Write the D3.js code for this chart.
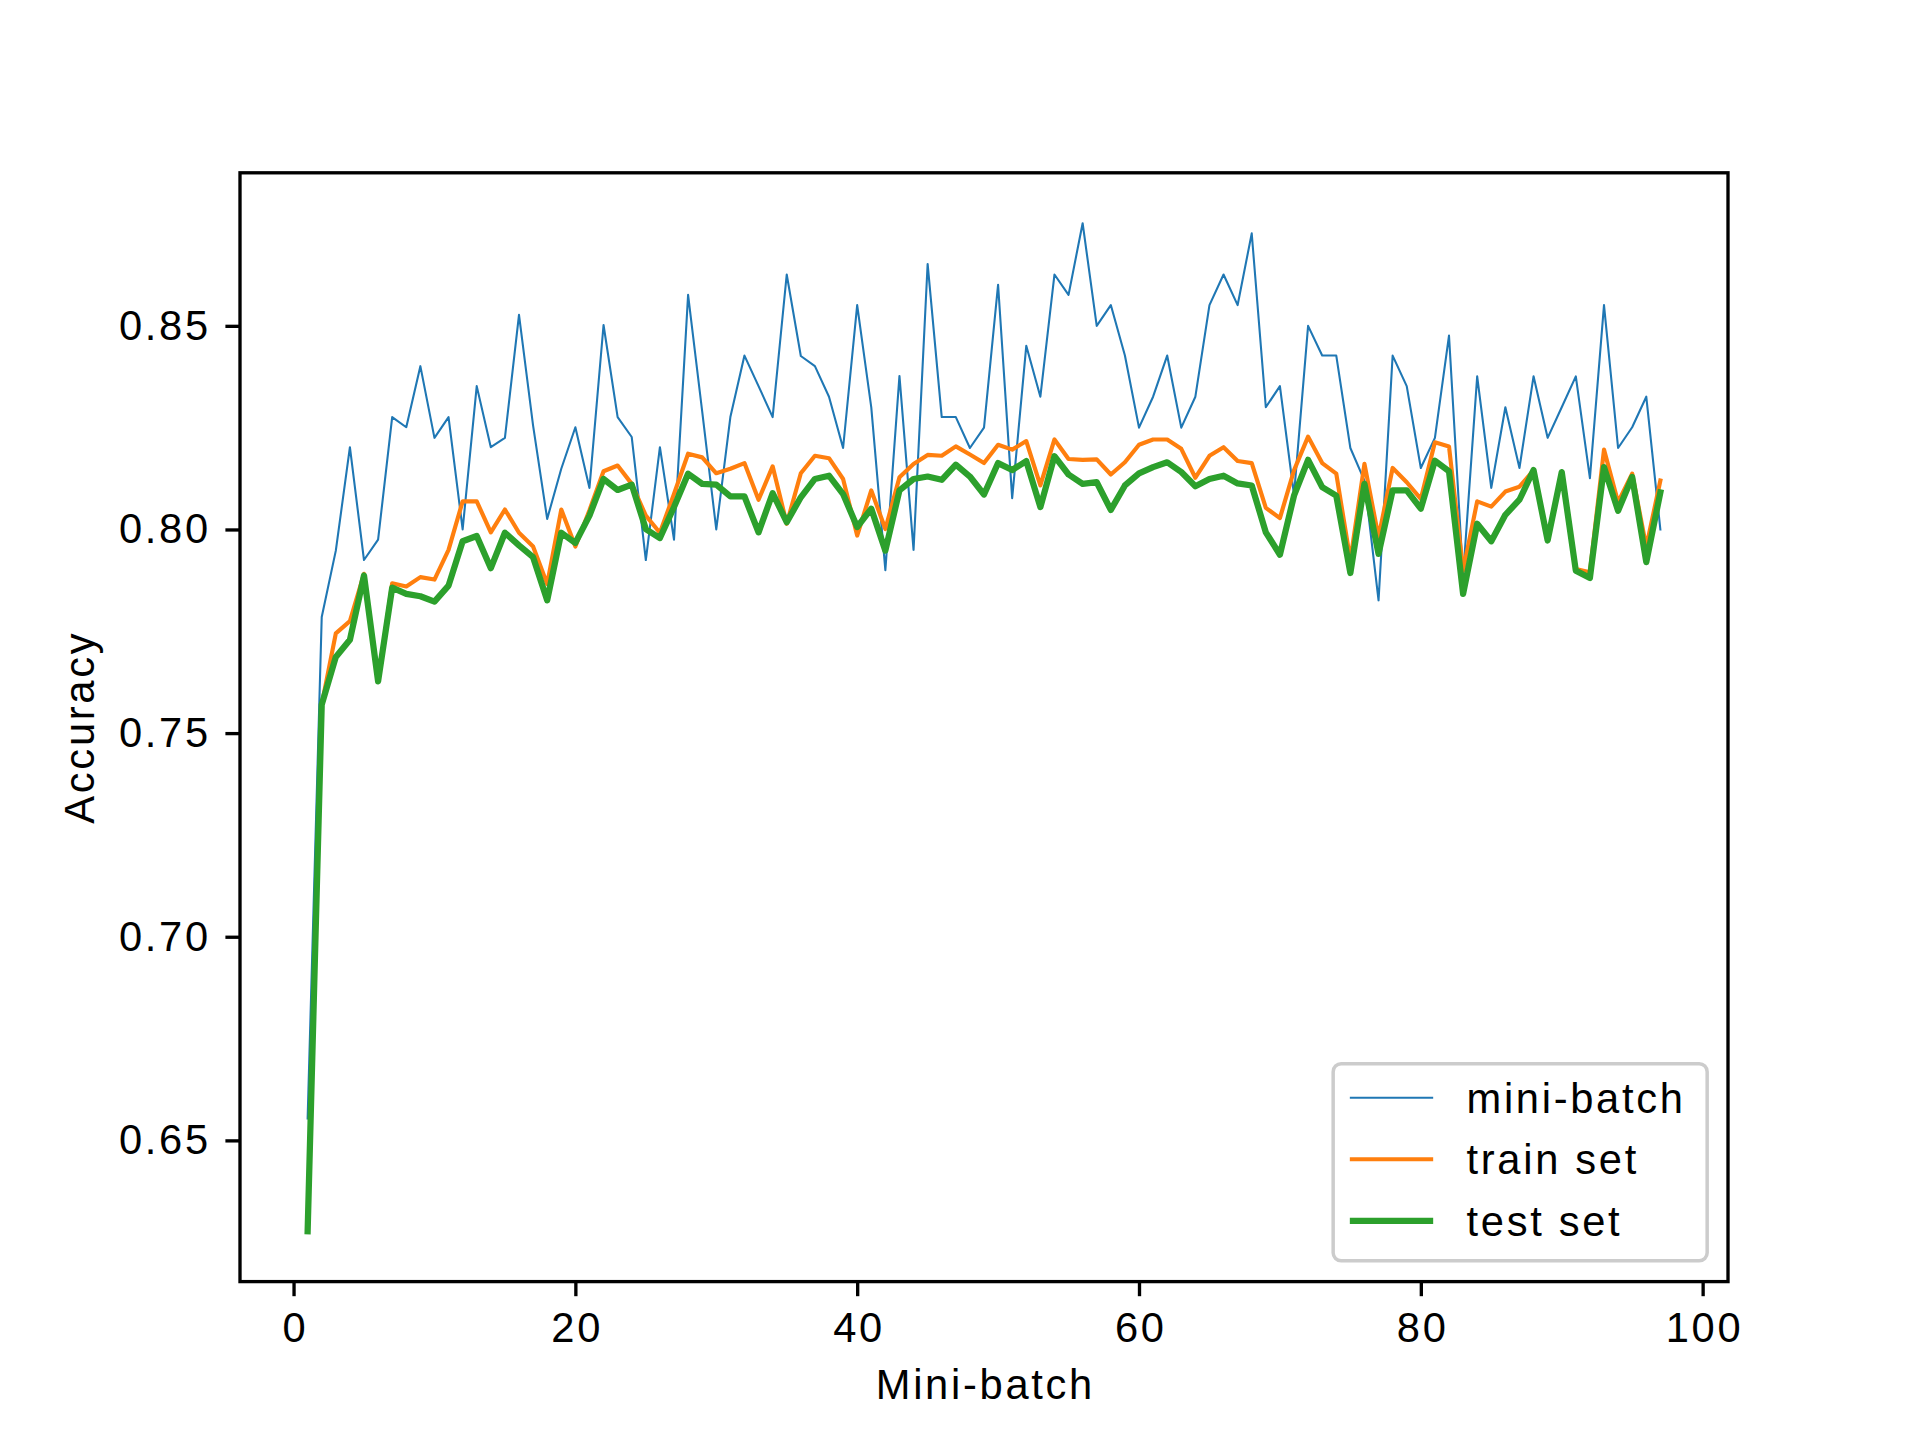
<!DOCTYPE html>
<html>
<head>
<meta charset="utf-8">
<script src="https://cdn.jsdelivr.net/npm/d3@7/dist/d3.min.js"></script>
<style>
  body { margin: 0; background: #fff; }
  svg { display: block; font-family: "Liberation Sans", Arial, sans-serif; }
  svg text { letter-spacing: 2.7px; }
</style>
</head>
<body>
<svg id="chart" width="1920" height="1440"></svg>
<script>
// accuracy per mini-batch
const miniBatch = [
  0.6554, 0.7785, 0.7948, 0.8202, 0.7925, 0.7975, 0.8276, 0.8251, 0.8401, 0.8225,
  0.8276, 0.8000, 0.8352, 0.8202, 0.8225, 0.8527, 0.8255, 0.8026, 0.8149, 0.8251,
  0.8102, 0.8502, 0.8276, 0.8227, 0.7925, 0.8202, 0.7975, 0.8576, 0.8290, 0.8000,
  0.8276, 0.8427, 0.8352, 0.8276, 0.8626, 0.8426, 0.8401, 0.8326, 0.8200, 0.8551,
  0.8300, 0.7900, 0.8377, 0.7950, 0.8652, 0.8276, 0.8276, 0.8200, 0.8250, 0.8601,
  0.8077, 0.8451, 0.8326, 0.8626, 0.8576, 0.8752, 0.8500, 0.8551, 0.8427, 0.8250,
  0.8326, 0.8427, 0.8250, 0.8326, 0.8551, 0.8626, 0.8551, 0.8727, 0.8300, 0.8352,
  0.8085, 0.8500, 0.8427, 0.8427, 0.8200, 0.8120, 0.7826, 0.8427, 0.8352, 0.8151,
  0.8225, 0.8476, 0.7885, 0.8376, 0.8102, 0.8300, 0.8151, 0.8376, 0.8225, 0.8300,
  0.8376, 0.8126, 0.8551, 0.8200, 0.8251, 0.8326, 0.8000
];
const trainSet = [
  0.6285, 0.7570, 0.7745, 0.7775, 0.7891, 0.7627, 0.7868, 0.7860, 0.7883, 0.7877,
  0.7950, 0.8069, 0.8069, 0.7993, 0.8049, 0.7992, 0.7958, 0.7866, 0.8049, 0.7958,
  0.8047, 0.8143, 0.8157, 0.8112, 0.8034, 0.7992, 0.8087, 0.8186, 0.8177, 0.8138,
  0.8149, 0.8163, 0.8073, 0.8155, 0.8014, 0.8138, 0.8181, 0.8175, 0.8124, 0.7985,
  0.8096, 0.8001, 0.8128, 0.8161, 0.8183, 0.8181, 0.8204, 0.8184, 0.8163, 0.8208,
  0.8196, 0.8217, 0.8108, 0.8221, 0.8173, 0.8171, 0.8172, 0.8135, 0.8165, 0.8208,
  0.8221, 0.8221, 0.8198, 0.8127, 0.8181, 0.8202, 0.8168, 0.8163, 0.8053, 0.8028,
  0.8145, 0.8228, 0.8163, 0.8137, 0.7924, 0.8161, 0.7981, 0.8151, 0.8116, 0.8075,
  0.8214, 0.8204, 0.7899, 0.8069, 0.8056, 0.8093, 0.8105, 0.8145, 0.7975, 0.8141,
  0.7903, 0.7895, 0.8196, 0.8067, 0.8137, 0.7957, 0.8120
];
const testSet = [
  0.6277, 0.7570, 0.7687, 0.7729, 0.7887, 0.7627, 0.7857, 0.7842, 0.7836, 0.7823,
  0.7862, 0.7971, 0.7984, 0.7905, 0.7992, 0.7961, 0.7932, 0.7826, 0.7992, 0.7967,
  0.8034, 0.8124, 0.8097, 0.8110, 0.8001, 0.7979, 0.8055, 0.8137, 0.8112, 0.8110,
  0.8081, 0.8081, 0.7993, 0.8089, 0.8018, 0.8079, 0.8124, 0.8132, 0.8087, 0.8006,
  0.8051, 0.7948, 0.8096, 0.8124, 0.8130, 0.8122, 0.8159, 0.8130, 0.8086, 0.8163,
  0.8146, 0.8168, 0.8055, 0.8180, 0.8135, 0.8112, 0.8116, 0.8048, 0.8108, 0.8138,
  0.8153, 0.8165, 0.8141, 0.8106, 0.8124, 0.8132, 0.8113, 0.8108, 0.7993, 0.7938,
  0.8083, 0.8171, 0.8104, 0.8083, 0.7893, 0.8112, 0.7940, 0.8096, 0.8096, 0.8051,
  0.8169, 0.8143, 0.7842, 0.8014, 0.7971, 0.8036, 0.8073, 0.8146, 0.7973, 0.8141,
  0.7899, 0.7881, 0.8153, 0.8046, 0.8129, 0.7920, 0.8091
];
const seriesNames = ['mini-batch', 'train set', 'test set'];
const xTicks = [0, 20, 40, 60, 80, 100];
const yTicks = [0.65, 0.70, 0.75, 0.80, 0.85];

const colors = ['#1f77b4', '#ff7f0e', '#2ca02c'];
const widths = [2.08, 4.17, 6.25];
const fs = 41.67; // 10pt @ 300dpi

const m = {left: 240, right: 1728, top: 172.8, bottom: 1281.6};

const series = [miniBatch, trainSet, testSet].map((vals, k) => ({
  name: seriesNames[k],
  values: vals.map((v, i) => ({x: i + 1, y: v}))
}));

// matplotlib style 5% margins
const pad = (ext) => {
  const s = ext[1] - ext[0];
  return [ext[0] - 0.05 * s, ext[1] + 0.05 * s];
};
const allPts = series.flatMap(s => s.values);
const x = d3.scaleLinear()
  .domain(pad(d3.extent(allPts, d => d.x)))
  .range([m.left, m.right]);
const y = d3.scaleLinear()
  .domain(pad(d3.extent(allPts, d => d.y)))
  .range([m.bottom, m.top]);

const svg = d3.select('#chart');

svg.append('defs').append('clipPath').attr('id', 'clip')
  .append('rect')
  .attr('x', m.left).attr('y', m.top)
  .attr('width', m.right - m.left).attr('height', m.bottom - m.top);

const line = d3.line()
  .x(d => x(d.x))
  .y(d => y(d.y));

svg.append('g')
  .attr('clip-path', 'url(#clip)')
  .selectAll('.series')
  .data(series)
  .enter().append('path')
  .attr('class', 'series')
  .attr('d', d => line(d.values))
  .attr('fill', 'none')
  .attr('stroke', (d, i) => colors[i])
  .attr('stroke-width', (d, i) => widths[i])
  .attr('stroke-linejoin', 'round')
  .attr('stroke-linecap', 'square');

// axes
const tickLen = 14.6, tickPad = 14.6, axisW = 3.33;

const xAxis = svg.append('g')
  .attr('transform', `translate(0,${m.bottom})`)
  .call(d3.axisBottom(x).tickValues(xTicks).tickSize(tickLen).tickPadding(tickPad).tickFormat(d3.format('d')));

const yAxis = svg.append('g')
  .attr('transform', `translate(${m.left},0)`)
  .call(d3.axisLeft(y).tickValues(yTicks).tickSize(tickLen).tickPadding(tickPad).tickFormat(d3.format('.2f')));

[xAxis, yAxis].forEach(ax => {
  ax.select('.domain').remove();
  ax.selectAll('line').attr('stroke', '#000').attr('stroke-width', axisW);
  ax.selectAll('text')
    .attr('fill', '#000')
    .style('font-family', '"Liberation Sans", Arial, sans-serif')
    .style('font-size', fs + 'px');
});
xAxis.selectAll('text').attr('dy', '0.76em').attr('dx', 1.35);

// frame
svg.append('rect')
  .attr('x', m.left).attr('y', m.top)
  .attr('width', m.right - m.left).attr('height', m.bottom - m.top)
  .attr('fill', 'none')
  .attr('stroke', '#000')
  .attr('stroke-width', axisW)
  .attr('stroke-linecap', 'square');

// axis labels
svg.append('text')
  .attr('x', (m.left + m.right) / 2 + 1.35)
  .attr('y', 1399)
  .attr('text-anchor', 'middle')
  .style('font-size', fs + 'px')
  .text('Mini-batch');

svg.append('text')
  .attr('transform', `translate(94,${(m.top + m.bottom) / 2}) rotate(-90)`)
  .attr('text-anchor', 'middle')
  .style('font-size', fs + 'px')
  .text('Accuracy');

// legend, lower right
const lg = {right: m.right - 0.5 * fs, bottom: m.bottom - 0.5 * fs, w: 374, h: 197};
const legend = svg.append('g')
  .attr('transform', `translate(${lg.right - lg.w},${lg.bottom - lg.h})`);

legend.append('rect')
  .attr('width', lg.w).attr('height', lg.h)
  .attr('rx', 8).attr('ry', 8)
  .attr('fill', 'rgba(255,255,255,0.8)')
  .attr('stroke', '#cccccc')
  .attr('stroke-width', 3.5);

const rows = legend.selectAll('.row')
  .data(series)
  .enter().append('g')
  .attr('class', 'row')
  .attr('transform', (d, i) => `translate(0,${34 + i * 61.5})`);

rows.append('line')
  .attr('x1', 0.4 * fs).attr('x2', 0.4 * fs + 2 * fs)
  .attr('stroke', (d, i) => colors[i])
  .attr('stroke-width', (d, i) => widths[i]);

rows.append('text')
  .attr('x', 0.4 * fs + 2.8 * fs)
  .attr('y', 15)
  .style('font-size', fs + 'px')
  .text(d => d.name);
</script>
</body>
</html>
